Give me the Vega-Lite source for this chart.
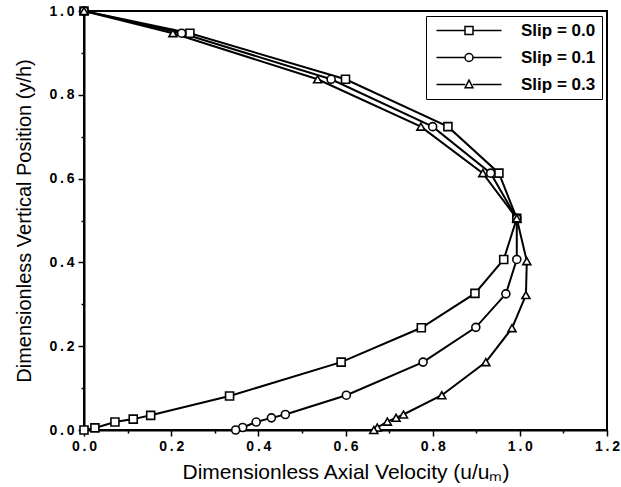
{
  "$schema": "https://vega.github.io/schema/vega-lite/v6.json",
  "width": 523,
  "height": 419,
  "autosize": {"type": "none"},
  "padding": {"left": 84, "top": 11, "right": 14, "bottom": 57},
  "background": "white",
  "config": {
    "view": {"stroke": "black", "strokeWidth": 2},
    "font": "Liberation Sans"
  },
  "data": {
    "values": [
      {"series": "Slip = 0.0", "i": 1, "u": 0.0, "y": 1.0},
      {"series": "Slip = 0.0", "i": 2, "u": 0.243, "y": 0.947},
      {"series": "Slip = 0.0", "i": 3, "u": 0.6, "y": 0.837},
      {"series": "Slip = 0.0", "i": 4, "u": 0.835, "y": 0.724},
      {"series": "Slip = 0.0", "i": 5, "u": 0.952, "y": 0.613},
      {"series": "Slip = 0.0", "i": 6, "u": 0.993, "y": 0.505},
      {"series": "Slip = 0.0", "i": 7, "u": 0.963, "y": 0.407},
      {"series": "Slip = 0.0", "i": 8, "u": 0.897, "y": 0.326},
      {"series": "Slip = 0.0", "i": 9, "u": 0.774, "y": 0.244},
      {"series": "Slip = 0.0", "i": 10, "u": 0.59, "y": 0.162},
      {"series": "Slip = 0.0", "i": 11, "u": 0.334, "y": 0.081},
      {"series": "Slip = 0.0", "i": 12, "u": 0.153, "y": 0.035},
      {"series": "Slip = 0.0", "i": 13, "u": 0.113, "y": 0.026},
      {"series": "Slip = 0.0", "i": 14, "u": 0.071, "y": 0.019},
      {"series": "Slip = 0.0", "i": 15, "u": 0.025, "y": 0.005},
      {"series": "Slip = 0.0", "i": 16, "u": 0.0, "y": 0.0},
      {"series": "Slip = 0.1", "i": 1, "u": 0.0, "y": 1.0},
      {"series": "Slip = 0.1", "i": 2, "u": 0.224, "y": 0.947},
      {"series": "Slip = 0.1", "i": 3, "u": 0.567, "y": 0.837},
      {"series": "Slip = 0.1", "i": 4, "u": 0.8, "y": 0.724},
      {"series": "Slip = 0.1", "i": 5, "u": 0.933, "y": 0.613},
      {"series": "Slip = 0.1", "i": 6, "u": 0.993, "y": 0.505},
      {"series": "Slip = 0.1", "i": 7, "u": 0.993, "y": 0.407},
      {"series": "Slip = 0.1", "i": 8, "u": 0.968, "y": 0.325},
      {"series": "Slip = 0.1", "i": 9, "u": 0.899, "y": 0.245},
      {"series": "Slip = 0.1", "i": 10, "u": 0.778, "y": 0.162},
      {"series": "Slip = 0.1", "i": 11, "u": 0.602, "y": 0.083},
      {"series": "Slip = 0.1", "i": 12, "u": 0.462, "y": 0.037},
      {"series": "Slip = 0.1", "i": 13, "u": 0.43, "y": 0.029},
      {"series": "Slip = 0.1", "i": 14, "u": 0.395, "y": 0.019},
      {"series": "Slip = 0.1", "i": 15, "u": 0.364, "y": 0.006},
      {"series": "Slip = 0.1", "i": 16, "u": 0.348, "y": 0.0},
      {"series": "Slip = 0.3", "i": 1, "u": 0.0, "y": 1.0},
      {"series": "Slip = 0.3", "i": 2, "u": 0.204, "y": 0.947},
      {"series": "Slip = 0.3", "i": 3, "u": 0.536, "y": 0.837},
      {"series": "Slip = 0.3", "i": 4, "u": 0.773, "y": 0.724},
      {"series": "Slip = 0.3", "i": 5, "u": 0.915, "y": 0.613},
      {"series": "Slip = 0.3", "i": 6, "u": 0.993, "y": 0.505},
      {"series": "Slip = 0.3", "i": 7, "u": 1.016, "y": 0.403},
      {"series": "Slip = 0.3", "i": 8, "u": 1.014, "y": 0.322},
      {"series": "Slip = 0.3", "i": 9, "u": 0.982, "y": 0.243},
      {"series": "Slip = 0.3", "i": 10, "u": 0.922, "y": 0.162},
      {"series": "Slip = 0.3", "i": 11, "u": 0.821, "y": 0.083},
      {"series": "Slip = 0.3", "i": 12, "u": 0.733, "y": 0.037},
      {"series": "Slip = 0.3", "i": 13, "u": 0.716, "y": 0.029},
      {"series": "Slip = 0.3", "i": 14, "u": 0.696, "y": 0.02},
      {"series": "Slip = 0.3", "i": 15, "u": 0.673, "y": 0.006},
      {"series": "Slip = 0.3", "i": 16, "u": 0.665, "y": 0.0}
    ]
  },
  "encoding": {
    "x": {
      "field": "u", "type": "quantitative",
      "scale": {"domain": [0, 1.2], "nice": false, "zero": false},
      "axis": {
        "title": "Dimensionless Axial Velocity (u/uₘ)",
        "values": [0, 0.1, 0.2, 0.3, 0.4, 0.5, 0.6, 0.7, 0.8, 0.9, 1.0, 1.1, 1.2],
        "labelExpr": "round(datum.value*10) % 2 == 0 ? replace(format(datum.value, '.1f'), '.', '\u2009.\u2009') : ''",
        "labelOverlap": false,
        "labelFlush": false,
        "labelFont": "Liberation Sans",
        "labelFontSize": 14,
        "labelFontWeight": "bold",
        "labelColor": "black",
        "labelPadding": 3,
        "tickSize": {"condition": {"test": "round(datum.value*10) % 2 == 0", "value": 6}, "value": 3},
        "tickColor": "black",
        "tickWidth": 1.5,
        "domainColor": "black",
        "domainWidth": 2,
        "grid": false,
        "titleFont": "Liberation Sans",
        "titleFontSize": 21,
        "titleFontWeight": "normal",
        "titleColor": "black",
        "titlePadding": 8
      }
    },
    "y": {
      "field": "y", "type": "quantitative",
      "scale": {"domain": [0, 1], "nice": false, "zero": false},
      "axis": {
        "title": "Dimensionless Vertical Position (y/h)",
        "values": [0, 0.1, 0.2, 0.3, 0.4, 0.5, 0.6, 0.7, 0.8, 0.9, 1.0],
        "labelExpr": "round(datum.value*10) % 2 == 0 ? replace(format(datum.value, '.1f'), '.', '\u2009.\u2009') : ''",
        "labelOverlap": false,
        "labelFlush": false,
        "labelFont": "Liberation Sans",
        "labelFontSize": 14,
        "labelFontWeight": "bold",
        "labelColor": "black",
        "labelPadding": 4,
        "tickSize": {"condition": {"test": "round(datum.value*10) % 2 == 0", "value": 6}, "value": 3},
        "tickColor": "black",
        "tickWidth": 1.5,
        "domainColor": "black",
        "domainWidth": 2,
        "grid": false,
        "titleFont": "Liberation Sans",
        "titleFontSize": 20,
        "titleFontWeight": "normal",
        "titleColor": "black",
        "titlePadding": 14
      }
    }
  },
  "layer": [
    {
      "mark": {"type": "line", "color": "black", "strokeWidth": 2},
      "encoding": {
        "detail": {"field": "series"},
        "order": {"field": "i", "type": "quantitative"}
      }
    },
    {
      "mark": {"type": "point", "filled": false, "fill": "white", "stroke": "black", "strokeWidth": 1.6, "size": 64, "opacity": 0.99},
      "encoding": {
        "shape": {
          "field": "series", "type": "nominal",
          "scale": {"domain": ["Slip = 0.0", "Slip = 0.1", "Slip = 0.3"], "range": ["square", "circle", "triangle-up"]},
          "legend": null
        }
      }
    },
    {
      "mark": {"type": "point", "filled": false, "fill": "white", "stroke": "black", "strokeWidth": 1.6, "size": 64, "opacity": 0},
      "encoding": {
        "shape": {
          "field": "series", "type": "nominal",
          "scale": {
            "domain": ["Slip = 0.0", "Slip = 0.1", "Slip = 0.3"],
            "range": [
              "M-1,0L6.125,0M8.125,0L15.25,0M6.125,-1L8.125,-1L8.125,1L6.125,1Z",
              "M-1,0L6.125,0M8.125,0L15.25,0M6.125,0A1,1,0,1,0,8.125,0A1,1,0,1,0,6.125,0Z",
              "M-1,0L6.2,0M8.05,0L15.25,0M7.125,-1.1L8.1,0.8L6.15,0.8Z"
            ]
          },
          "legend": {
            "title": null,
            "orient": "top-right",
            "offset": 5,
            "padding": 6,
            "symbolSize": 64,
            "symbolOpacity": 1,
            "labelFont": "Liberation Sans",
            "labelFontSize": 17,
            "labelFontWeight": "bold",
            "labelColor": "black",
            "labelOffset": 72,
            "rowPadding": 9,
            "strokeColor": "black",
            "fillColor": "white"
          }
        }
      }
    }
  ],
  "resolve": {"scale": {"shape": "independent"}, "legend": {"shape": "independent"}}
}
